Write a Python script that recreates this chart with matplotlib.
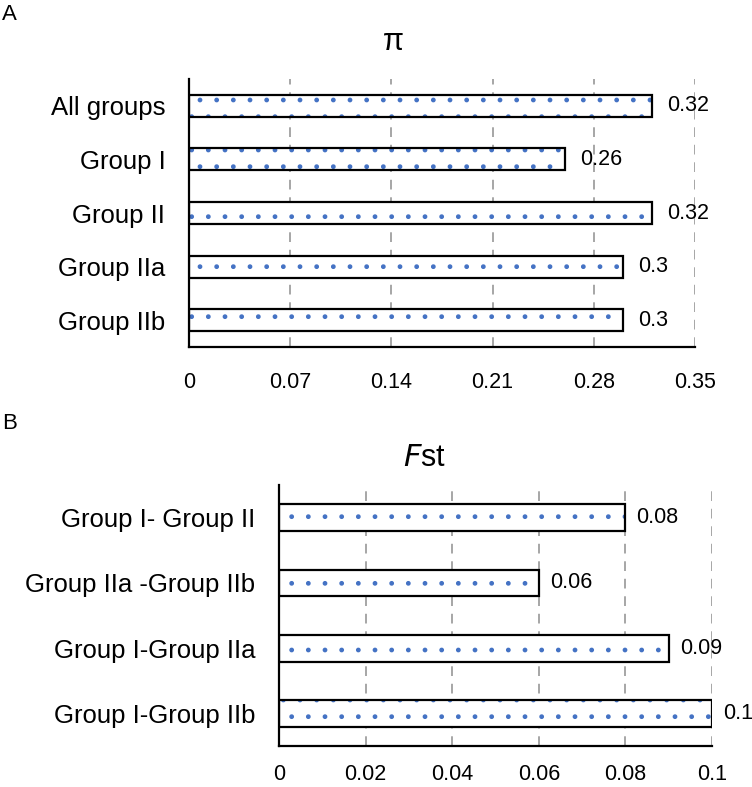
import matplotlib
matplotlib.use("Agg")
import matplotlib.pyplot as plt

plt.rcParams['font.family'] = ['Liberation Sans', 'DejaVu Sans']
plt.rcParams['hatch.linewidth'] = 1.0

# panel A: nucleotide diversity
pi_groups = ['All groups', 'Group I', 'Group II', 'Group IIa', 'Group IIb']
pi_values = [0.32, 0.26, 0.32, 0.30, 0.30]
pi_labels = ['0.32', '0.26', '0.32', '0.3', '0.3']
pi_ticks = [0, 0.07, 0.14, 0.21, 0.28, 0.35]
pi_ticklabels = ['0', '0.07', '0.14', '0.21', '0.28', '0.35']

# panel B: Fst between groups
fst_pairs = ['Group I- Group II', 'Group IIa -Group IIb', 'Group I-Group IIa', 'Group I-Group IIb']
fst_values = [0.08, 0.06, 0.09, 0.10]
fst_labels = ['0.08', '0.06', '0.09', '0.1']
fst_ticks = [0, 0.02, 0.04, 0.06, 0.08, 0.1]
fst_ticklabels = ['0', '0.02', '0.04', '0.06', '0.08', '0.1']

dot_blue = '#4472C4'
fs_y = 18.5
fs_x = 15.5
fs_val = 15.5

fig = plt.figure(figsize=(7.52, 7.87), dpi=100)
axA = fig.add_axes([0.2513, 0.5591, 0.6729, 0.3405])
axB = fig.add_axes([0.371, 0.0521, 0.5758, 0.3316])


def draw_panel(ax, names, vals, labels, ticks, ticklabels, xpad, ypad, voff):
    pos = range(len(names))
    # dotted fill first, then the black outline on top
    ax.barh(pos, vals, height=0.41, color='white', edgecolor=dot_blue,
            hatch='.', linewidth=0, zorder=2)
    ax.barh(pos, vals, height=0.41, fill=False, edgecolor='black',
            linewidth=1.6, zorder=3)
    for p, v, lab in zip(pos, vals, labels):
        ax.annotate(lab, (v, p), xytext=(voff, 0), textcoords='offset points',
                    va='center', ha='left', fontsize=fs_val)
    ax.set_xlim(0, ticks[-1])
    ax.set_ylim(len(names) - 0.5, -0.5)
    ax.set_xticks(ticks)
    ax.set_xticklabels(ticklabels)
    ax.set_yticks(list(pos))
    ax.set_yticklabels(names)
    ax.tick_params(axis='both', length=0)
    ax.tick_params(axis='x', pad=xpad, labelsize=fs_x)
    ax.tick_params(axis='y', pad=ypad, labelsize=fs_y)
    for t in ticks[1:]:
        ax.axvline(t, color='#a6a6a6', linestyle=(0, (5, 4)), linewidth=1.4, zorder=1)
    for s in ['top', 'right']:
        ax.spines[s].set_visible(False)
    ax.spines['left'].set_linewidth(1.6)
    ax.spines['bottom'].set_linewidth(1.6)


draw_panel(axA, pi_groups, pi_values, pi_labels, pi_ticks, pi_ticklabels, 18, 17, 11)
draw_panel(axB, fst_pairs, fst_values, fst_labels, fst_ticks, fst_ticklabels, 13, 17, 8)

# chart titles sit centred over the whole chart area, not the plot area
fig.text(393 / 752, 1 - 42 / 787, 'π', fontsize=22, ha='center', va='center')
fig.text(425 / 752, 1 - 458 / 787, r'$\mathit{F}$st', fontsize=22, ha='center', va='center')

fig.text(0.003, 0.995, 'A', fontsize=16, va='top', ha='left')
fig.text(0.003, 0.475, 'B', fontsize=16, va='top', ha='left')

fig.savefig('out.png', dpi=100)
